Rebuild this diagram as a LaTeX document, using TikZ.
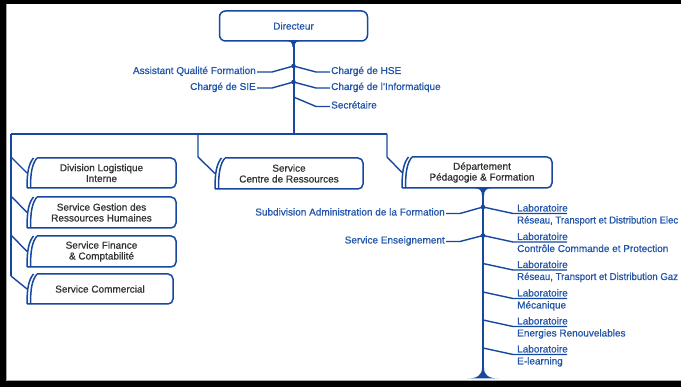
\documentclass[tikz,border=0pt]{standalone}
\usepackage{fontspec}
\setmainfont{Liberation Sans}[FakeBold=0.7]
\definecolor{lb}{RGB}{22,72,160}
\definecolor{tb}{RGB}{35,85,170}
\definecolor{tg}{RGB}{50,50,50}
\newcommand\tf{\fontsize{10}{10.8}\selectfont}
\tikzset{
  ln/.style={draw=lb, line width=1.4pt, line join=round},
  trunk/.style={draw=lb, line width=2pt},
  bx/.style={draw=lb, line width=1.5pt},
  lbl/.style={text=tb, font=\tf, inner sep=0pt},
  boxtxt/.style={text=tg, font=\tf, align=center, inner sep=0pt},
  hold/.style={inner sep=0pt, outer sep=0pt},
}
\newcommand\mmbox[4]{%
  \fill[white] ({#1+2},#2) rectangle (#4,#3);
  \draw[bx,rounded corners=5pt] (#1,#3) -- (#4,#3) -- (#4,#2) -- ({#1+10},#2);
  \draw[bx] ({#1+6.5},#2) .. controls ({#1+1.5},{#2+6}) and (#1,{#2+15}) .. (#1,#3);
  \draw[bx] ({#1+10},#2) .. controls ({#1+5},{#2+6}) and ({#1+3.5},{#2+15}) .. ({#1+3.5},#3);
}
\begin{document}
\begin{tikzpicture}[x=1pt,y=-1pt]
\useasboundingbox (0,0) rectangle (681,387);
\fill[white] (0,0) rectangle (681,387);
% frame
\draw[black!35, line width=1pt] (6,4) -- (6,380.5) -- (681,380.5);
\fill[black] (0,0) rectangle (681,4);
\fill[black] (0,0) rectangle (5.5,387);
\fill[black] (0,381) rectangle (681,387);

% ---------- Director ----------
\node[draw=lb, line width=1.5pt, rounded corners=6pt, minimum width=148pt, minimum height=30pt,
      text=tb, font=\tf, inner sep=0pt] (dir) at (293.5,26) {Directeur};
\coordinate (j1) at (293.5,66);
\coordinate (j2) at (293.5,82);
\coordinate (j3) at (293.5,97);
\coordinate (bus) at (293.5,134);
\draw[trunk] (dir.south) -- (bus);
\fill[lb] (286,41) .. controls (290.5,41) and (292.5,42.5) .. (292.5,47) -- (294.5,47) .. controls (294.5,42.5) and (296.5,41) .. (301,41) -- cycle;

\node[lbl, anchor=base east] (aqf) at (256,74) {Assistant Qualité Formation};
\node[lbl, anchor=base west] (hse) at (331,74) {Chargé de HSE};
\node[lbl, anchor=base east] (sie) at (256,90) {Chargé de SIE};
\node[lbl, anchor=base west] (inf) at (331,90) {Chargé de l’Informatique};
\node[lbl, anchor=base west] (sec) at (331,108.5) {Secrétaire};
\draw[ln] (j1) -- (272,72) -- ([xshift=1pt,yshift=2pt]aqf.base east);
\draw[ln] (j1) -- (316,72) -- ([xshift=-1pt,yshift=2pt]hse.base west);
\draw[ln] (j2) -- (272,88) -- ([xshift=1pt,yshift=2pt]sie.base east);
\draw[ln] (j2) -- (316,88) -- ([xshift=-1pt,yshift=2pt]inf.base west);
\draw[ln] (j3) -- (316,106.5) -- ([xshift=-1pt,yshift=2pt]sec.base west);
\fill[lb] (j1) circle (2.3);
\fill[lb] (j2) circle (2.3);

% ---------- bus ----------
\coordinate (busL) at (11,134);
\coordinate (busM) at (198,134);
\coordinate (busR) at (387,134);
\coordinate (lvEnd) at (11,276);
\draw[ln, line width=1.5pt] (busL) -- (busR);
\draw[ln, line width=1.5pt] (busL) -- (lvEnd);

% boxes (holders for names)
\node[hold, minimum width=149pt, minimum height=30pt] (b1) at (101.5,173) {};
\node[hold, minimum width=149pt, minimum height=31pt] (b2) at (101.5,212.5) {};
\node[hold, minimum width=149pt, minimum height=31pt] (b3) at (101.5,251.5) {};
\node[hold, minimum width=146pt, minimum height=30pt] (b4) at (100,289) {};
\node[hold, minimum width=148pt, minimum height=31pt] (b5) at (289,173.5) {};
\node[hold, minimum width=150pt, minimum height=31pt] (b6) at (477,172.5) {};

\draw[ln] (11,157) -- (b1.west);
\draw[ln] (11,196) -- (b2.west);
\draw[ln] (11,235) -- (b3.west);
\draw[ln] (lvEnd) -- (b4.west);
\draw[ln] (busM) -- (198,157) -- (b5.west);
\draw[ln] (busR) -- (387,157) -- (b6.west);

\mmbox{27}{158}{188}{176}
\mmbox{27}{197}{228}{176}
\mmbox{27}{236}{267}{176}
\mmbox{27}{274}{304}{173}
\mmbox{215}{158}{189}{363}
\mmbox{402}{157}{188}{552}

\node[boxtxt] (t1) at (b1) {Division Logistique\\Interne};
\node[boxtxt] (t2) at (b2) {Service Gestion des\\Ressources Humaines};
\node[boxtxt] (t3) at (b3) {Service Finance\\\& Comptabilité};
\node[boxtxt] (t4) at (b4) {Service Commercial};
\node[boxtxt] (t5) at (b5) {Service\\Centre de Ressources};
\node[boxtxt] (t6) at (482,172.5) {Département\\Pédagogie \& Formation};

% ---------- Departement trunk ----------
\coordinate (dtop) at (483,188);
\coordinate (dbot) at (483,378);
\draw[trunk] (dtop) -- (dbot);
\fill[lb] (473,188) .. controls (479.5,188) and (482,190) .. (482,196) -- (484,196) .. controls (484,190) and (486.5,188) .. (493,188) -- cycle;
\fill[lb] (467,378.5) .. controls (477,378.5) and (482,375.5) .. (482,368) -- (484,368) .. controls (484,375.5) and (489,378.5) .. (499,378.5) -- cycle;

\coordinate (dj1) at (483,207);
\coordinate (dj2) at (483,235.5);
\node[lbl, anchor=base east] (sub) at (445,215.5) {Subdivision Administration de la Formation};
\node[lbl, anchor=base east] (ens) at (445,243.5) {Service Enseignement};
\draw[ln] (dj1) -- (460,213.5) -- ([xshift=1pt,yshift=2pt]sub.base east);
\draw[ln] (dj2) -- (460,241.5) -- ([xshift=1pt,yshift=2pt]ens.base east);

\foreach \i/\yj/\txt in {1/207/{\scalebox{0.955}[1]{Réseau, Transport et Distribution Elec}},
                         2/235.5/{Contrôle Commande et Protection},
                         3/263.5/{\scalebox{0.96}[1]{Réseau, Transport et Distribution Gaz}},
                         4/292/{Mécanique},
                         5/320/{Energies Renouvelables},
                         6/348/{E-learning}} {
  \node[lbl, anchor=base west] (la\i) at (517,\yj+4.5) {Laboratoire};
  \node[lbl, anchor=base west] (lb\i) at (517,\yj+16.5) {\txt};
  \coordinate (lj\i) at (483,\yj);
  \coordinate (lu\i) at (567,\yj+6.5);
  \draw[ln] (lj\i) -- (513,\yj+6.5) -- (lu\i);
}
\fill[lb] (dj1) circle (2.3);
\fill[lb] (dj2) circle (2.3);
\end{tikzpicture}
\end{document}
